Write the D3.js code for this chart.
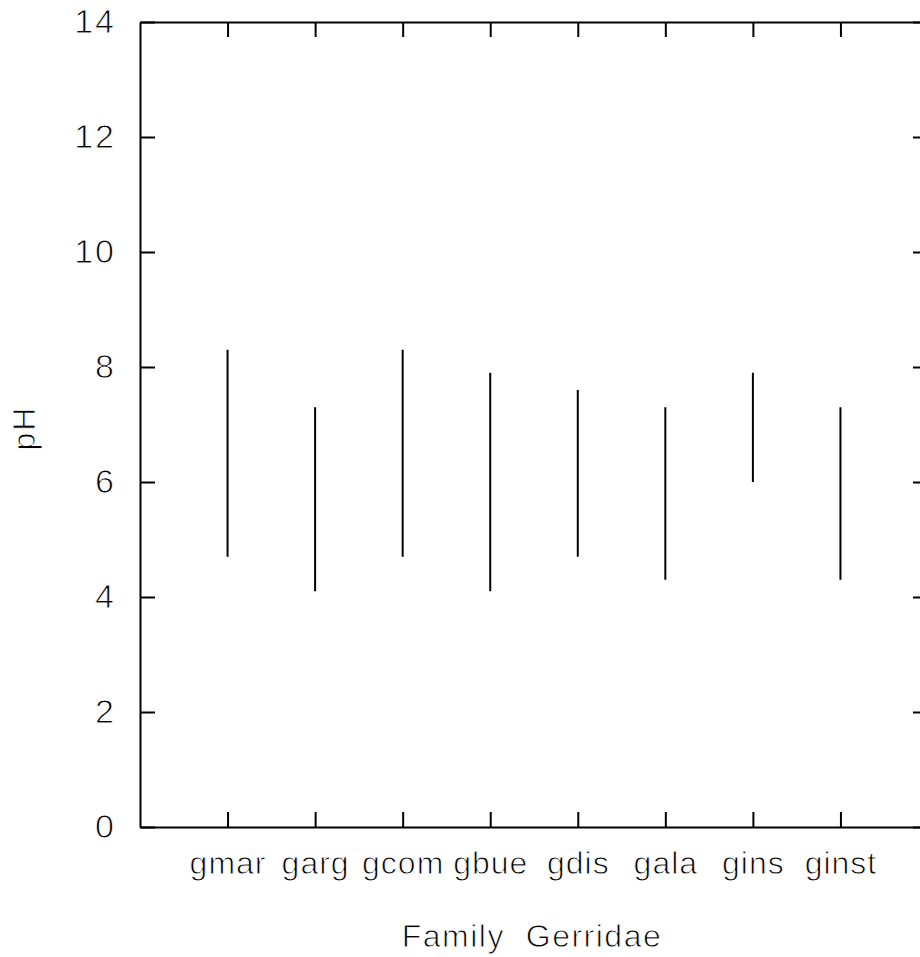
<!DOCTYPE html>
<html>
<head>
<meta charset="utf-8">
<script src="https://cdn.jsdelivr.net/npm/d3@7"></script>
<style>
  html, body { margin: 0; padding: 0; background: #fff; }
  svg { display: block; }
  text { font-family: "Liberation Sans", Arial, sans-serif; fill: #000; }
  .thin { stroke: #fff; stroke-width: 0.9px; paint-order: fill stroke; }
</style>
</head>
<body>
<svg id="chart" width="920" height="957"></svg>
<script>
// ---- data ----
const categories = ["gmar", "garg", "gcom", "gbue", "gdis", "gala", "gins", "ginst"];
const phMin = [4.7, 4.1, 4.7, 4.1, 4.7, 4.3, 6.0, 4.3];
const phMax = [8.3, 7.3, 8.3, 7.9, 7.6, 7.3, 7.9, 7.3];
const yTicks = [0, 2, 4, 6, 8, 10, 12, 14];
const xTitle = "Family  Gerridae";
const yTitle = "pH";

(function () {
const svg = d3.select("#chart");
const mLeft = 140, mRight = 928, mTop = 22, mBottom = 827;

const x = d3.scalePoint().domain(categories).range([mLeft, mRight]).padding(1);
const y = d3.scaleLinear().domain([0, 14]).range([mBottom, mTop]);

const tickLen = 15;
const fontSize = 32;

// axes
const gBottom = svg.append("g").attr("transform", `translate(0,${mBottom})`)
  .call(d3.axisBottom(x).tickSizeInner(-tickLen).tickSizeOuter(0).tickPadding(29));
const gTop = svg.append("g").attr("transform", `translate(0,${mTop})`)
  .call(d3.axisTop(x).tickSizeInner(-tickLen).tickSizeOuter(0).tickFormat(""));
const gLeft = svg.append("g").attr("transform", `translate(${mLeft},0)`)
  .call(d3.axisLeft(y).tickValues(yTicks).tickSizeInner(-tickLen).tickSizeOuter(0).tickPadding(24).tickFormat(d3.format("d")));
const gRight = svg.append("g").attr("transform", `translate(${mRight},0)`)
  .call(d3.axisRight(y).tickValues(yTicks).tickSizeInner(-tickLen).tickSizeOuter(0).tickFormat(""));

[gBottom, gTop, gLeft, gRight].forEach(g => {
  g.select(".domain").attr("stroke", "#000").attr("stroke-width", 2);
  g.selectAll(".tick line").attr("stroke", "#000").attr("stroke-width", 2);
  g.selectAll(".tick text")
    .attr("class", "thin")
    .attr("font-size", fontSize)
    .attr("font-family", "Liberation Sans, Arial, sans-serif")
    .attr("fill", "#000")
    .attr("letter-spacing", "1px");
});
gBottom.selectAll(".tick text").attr("dy", "0.55em");
gLeft.selectAll(".tick text").attr("font-size", 34).attr("letter-spacing", "2px");

// range lines
svg.append("g").selectAll("line.range")
  .data(categories.map((c, i) => ({c, lo: phMin[i], hi: phMax[i]})))
  .join("line")
  .attr("class", "range")
  .attr("x1", d => x(d.c)).attr("x2", d => x(d.c))
  .attr("y1", d => y(d.lo)).attr("y2", d => y(d.hi))
  .attr("stroke", "#000").attr("stroke-width", 2);

// titles
svg.append("text")
  .attr("class", "thin")
  .attr("x", (mLeft + mRight) / 2 - 2).attr("y", 947)
  .attr("text-anchor", "middle")
  .attr("font-size", fontSize)
  .attr("letter-spacing", "1.5px")
  .style("white-space", "pre")
  .text(xTitle);

svg.append("text")
  .attr("class", "thin")
  .attr("transform", `translate(35,428) rotate(-90)`)
  .attr("text-anchor", "middle")
  .attr("font-size", fontSize)
  .attr("letter-spacing", "2px")
  .text(yTitle);
})();
</script>
</body>
</html>
